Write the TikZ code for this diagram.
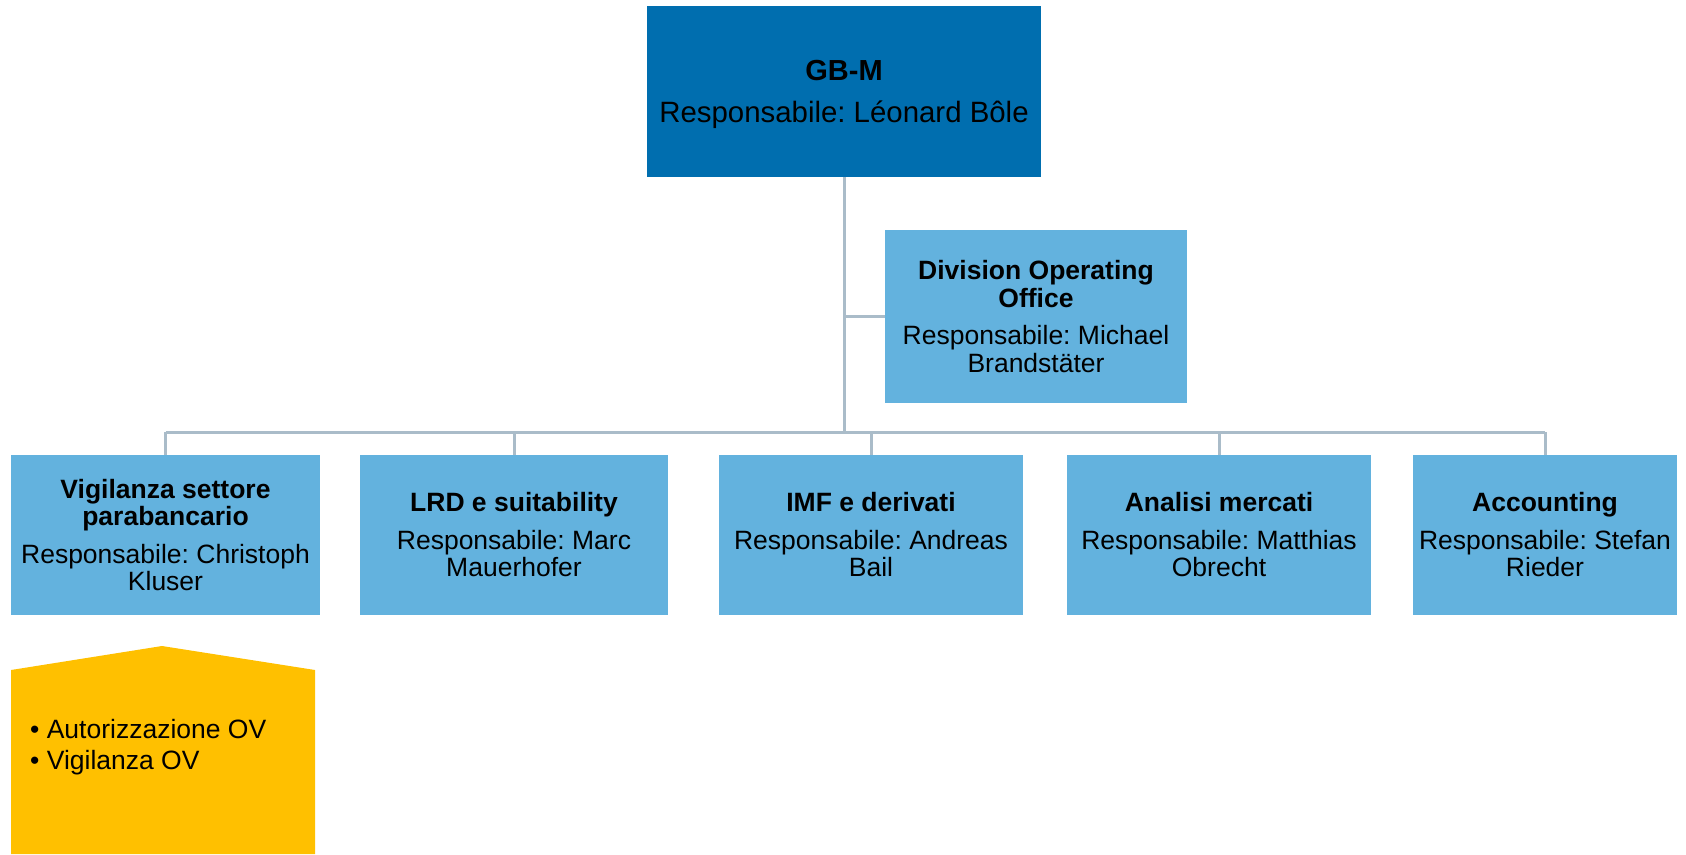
\documentclass[tikz,border=0pt]{standalone}
\usepackage{fontspec}
\setmainfont{Liberation Sans}
\frenchspacing
\definecolor{gbdark}{RGB}{0,110,175}
\definecolor{gblight}{RGB}{99,178,222}
\definecolor{gbyellow}{RGB}{255,192,0}
\definecolor{gbline}{RGB}{170,188,201}
\tikzset{
  unit/.style={fill=gblight, inner sep=0pt, align=center, minimum height=160pt,
    font=\fontsize{26.5}{27.5}\selectfont},
  head/.style={unit, fill=gbdark, font=\fontsize{29.4}{35}\selectfont},
  link/.style={draw=gbline, line width=3pt},
}
\begin{document}
\begin{tikzpicture}[x=1pt,y=1pt]
\useasboundingbox (0,0) rectangle (1686,-854);
% top
\node[head, minimum width=394pt, minimum height=171pt] (gbm) at (844,-91.5)
  {\rule{0pt}{27pt}{\fontsize{29}{34}\selectfont\bfseries GB-M}\\[7pt]Responsabile: Léonard Bôle};
\node[unit, minimum width=302pt, minimum height=173pt] (doo) at (1036,-316.5)
  {\textbf{Division Operating}\\\textbf{Office}\\[10pt]Responsabile: Michael\\Brandstäter};
% units
\node[unit, minimum width=309pt] (u1) at (165.5,-535)
  {\textbf{Vigilanza settore}\\\textbf{parabancario}\\[10pt]Responsabile: Christoph\\Kluser};
\node[unit, minimum width=308pt] (u2) at (514,-535)
  {\textbf{LRD e suitability}\\[10pt]Responsabile: Marc\\Mauerhofer};
\node[unit, minimum width=304pt] (u3) at (871,-535)
  {\textbf{IMF e derivati}\\[10pt]Responsabile: Andreas\\Bail};
\node[unit, minimum width=304pt] (u4) at (1219,-535)
  {\textbf{Analisi mercati}\\[10pt]Responsabile: Matthias\\Obrecht};
\node[unit, minimum width=264pt] (u5) at (1545,-535)
  {\textbf{Accounting}\\[10pt]Responsabile: Stefan\\Rieder};
% lines
\coordinate (bus) at (gbm.south |- 0,-432);
\draw[link] (gbm.south) -- (bus);
\draw[link] (gbm.south |- doo.west) -- (doo.west);
\draw[link] (u1.north |- bus) -- (u5.north |- bus);
\foreach \u in {u1,u2,u3,u4,u5}
  \draw[link] (\u.north |- bus) -- (\u.north);
% tasks
\fill[gbyellow] (11,-670) -- (162,-646) -- (315,-670) -- (315,-854) -- (11,-854) -- cycle;
\node[anchor=west, align=left, inner sep=0pt, font=\fontsize{26.5}{31}\selectfont] (tasks) at (30,-747)
  {• Autorizzazione OV\\• Vigilanza OV};
\end{tikzpicture}
\end{document}
